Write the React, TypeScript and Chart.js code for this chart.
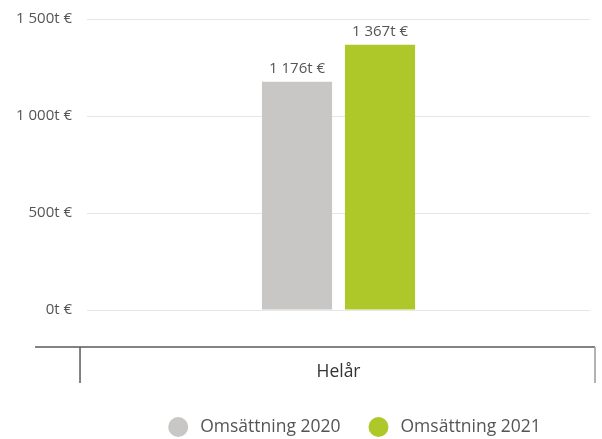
import React, { useEffect, useRef } from "react";
import { Chart, registerables } from "chart.js";

Chart.register(...registerables);

const categories = ["Helår"];
const seriesNames = ["Omsättning 2020", "Omsättning 2021"];
const values2020 = [1176];
const values2021 = [1367];
const seriesColors = ["#c8c7c5", "#aec82a"];
const yTicks = [0, 500, 1000, 1500];

const FONT = "'Open Sans', 'DejaVu Sans', sans-serif";

function fmt(v: number): string {
  const s = Math.round(v).toString();
  return s.replace(/\B(?=(\d{3})+(?!\d))/g, " ") + "t €";
}

const barLabels = {
  id: "barLabels",
  afterDatasetsDraw(chart: any) {
    const ctx = chart.ctx;
    ctx.save();
    ctx.font = `15px ${FONT}`;
    ctx.fillStyle = "#555555";
    ctx.textAlign = "center";
    ctx.textBaseline = "bottom";
    chart.data.datasets.forEach((ds: any, i: number) => {
      const meta = chart.getDatasetMeta(i);
      meta.data.forEach((bar: any, j: number) => {
        ctx.fillText(fmt(ds.data[j]), bar.x, bar.y - 6);
      });
    });
    ctx.restore();
  },
};

const tableLines = {
  id: "tableLines",
  afterDraw(chart: any) {
    const { ctx, chartArea } = chart;
    const y = chartArea.bottom + 37;
    const left = chartArea.left - 52;
    const right = chartArea.right + 5;
    ctx.save();
    ctx.strokeStyle = "#5a5a5a";
    ctx.lineWidth = 1.5;
    ctx.beginPath();
    ctx.moveTo(left, y);
    ctx.lineTo(right, y);
    ctx.moveTo(chartArea.left - 7, y);
    ctx.lineTo(chartArea.left - 7, y + 36);
    ctx.stroke();
    ctx.strokeStyle = "#9a9a9a";
    ctx.beginPath();
    ctx.moveTo(right, y);
    ctx.lineTo(right, y + 36);
    ctx.stroke();
    ctx.restore();
  },
};

const customLegend = {
  id: "customLegend",
  afterDraw(chart: any) {
    const { ctx, chartArea } = chart;
    ctx.save();
    ctx.font = `17.5px ${FONT}`;
    ctx.textBaseline = "middle";
    ctx.textAlign = "left";
    const r = 10;
    const textGap = 22;
    const itemGap = 28;
    const ds = chart.data.datasets;
    const widths = ds.map((d: any) => r + textGap + ctx.measureText(d.label).width);
    const total = widths.reduce((a: number, b: number) => a + b, 0) + itemGap * (ds.length - 1);
    const cx = (chartArea.left + chartArea.right) / 2 + 16;
    let x = cx - total / 2;
    const y = chartArea.bottom + 117;
    ds.forEach((d: any, i: number) => {
      ctx.fillStyle = d.backgroundColor;
      ctx.beginPath();
      ctx.arc(x + r, y, r, 0, Math.PI * 2);
      ctx.fill();
      ctx.fillStyle = "#555555";
      ctx.fillText(d.label, x + r + textGap, y);
      x += widths[i] + itemGap;
    });
    ctx.restore();
  },
};

export default function App() {
  const ref = useRef<HTMLCanvasElement | null>(null);
  useEffect(() => {
    if (!ref.current) return;
    const chart = new Chart(ref.current, {
      type: "bar",
      data: {
        labels: categories,
        datasets: [
          { label: seriesNames[0], data: values2020, backgroundColor: seriesColors[0] },
          { label: seriesNames[1], data: values2021, backgroundColor: seriesColors[1] },
        ],
      },
      options: {
        animation: false,
        responsive: false,
        maintainAspectRatio: false,
        devicePixelRatio: 1,
        layout: { padding: { top: 19, left: 1, right: 12, bottom: 0 } },
        datasets: {
          bar: { categoryPercentage: 0.33, barPercentage: 0.845 },
        },
        plugins: {
          legend: { display: false },
          tooltip: { enabled: false },
        },
        scales: {
          x: {
            grid: { display: false, drawTicks: false },
            border: { display: false },
            afterFit: (scale: any) => {
              scale.height = 129;
            },
            ticks: {
              padding: 52,
              color: "#333333",
              font: { family: FONT, size: 17.5 },
            },
          },
          y: {
            min: 0,
            max: 1500,
            afterBuildTicks: (scale: any) => {
              scale.ticks = yTicks.map((v) => ({ value: v }));
            },
            afterFit: (scale: any) => {
              scale.paddingTop = 0;
            },
            grid: { color: "#e6e6e6", drawTicks: false, lineWidth: 1 },
            border: { display: false },
            ticks: {
              padding: 15,
              color: "#555555",
              font: { family: FONT, size: 15 },
              callback: (v: any) => fmt(Number(v)),
            },
          },
        },
      },
      plugins: [barLabels, tableLines, customLegend],
    });
    return () => chart.destroy();
  }, []);
  return (
    <div style={{ position: "fixed", left: 0, top: 0, width: 602, height: 439 }}>
      <canvas ref={ref} width={602} height={439} style={{ width: 602, height: 439 }} />
    </div>
  );
}
